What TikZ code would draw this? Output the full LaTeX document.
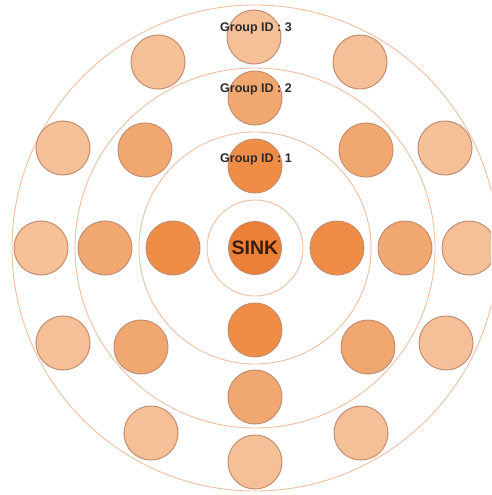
\documentclass[tikz,border=0pt]{standalone}
\usepackage{fontspec}
\setmainfont{Liberation Sans}
\definecolor{ringline}{HTML}{EFBFA2}
\definecolor{nodeline}{HTML}{C38E70}
\definecolor{sinkfill}{HTML}{EB8036}
\definecolor{gonefill}{HTML}{EF8D46}
\definecolor{gtwofill}{HTML}{F1A770}
\definecolor{gthreefill}{HTML}{F5BF98}
\definecolor{labeltext}{HTML}{2E2A28}
\definecolor{sinktext}{HTML}{3A1E0C}
\tikzset{
  ring/.style={draw=ringline, line width=0.9pt},
  sensor/.style={circle, draw=nodeline, line width=1pt, minimum size=54pt, inner sep=0pt},
  gone/.style={sensor, fill=gonefill},
  gtwo/.style={sensor, fill=gtwofill},
  gthree/.style={sensor, fill=gthreefill},
  sinknode/.style={sensor, fill=sinkfill, minimum size=53pt,
    font=\bfseries\fontsize{19.5}{20}\selectfont, text=sinktext},
  grouplabel/.style={font=\bfseries\fontsize{12.5}{13}\selectfont, text=labeltext, inner sep=0pt}
}
\begin{document}
\begin{tikzpicture}[x=1pt,y=-1pt]
\useasboundingbox (0,0) rectangle (491,495);
\clip (0,0) rectangle (491,495);
\fill[white] (0,0) rectangle (491,495);
\coordinate (c) at (255,248);
% concentric group boundaries
\draw[ring] (c) circle[radius=48];
\draw[ring] (c) circle[radius=116];
\draw[ring] (c) circle[radius=180];
\draw[ring] (c) circle[radius=243];
% sink
\node[sinknode] (sink) at (c) {SINK};
% group 1
\node[gone] (a1) at (255,166) {};
\node[gone] (a2) at (337,248) {};
\node[gone] (a3) at (255,330) {};
\node[gone] (a4) at (173,248) {};
% group 2
\node[gtwo] (b1) at (255,98) {};
\node[gtwo] (b2) at (366,150) {};
\node[gtwo] (b3) at (405,248) {};
\node[gtwo] (b4) at (368,347) {};
\node[gtwo] (b5) at (255,397) {};
\node[gtwo] (b6) at (141,347) {};
\node[gtwo] (b7) at (105,248) {};
\node[gtwo] (b8) at (145,150) {};
% group 3
\node[gthree] (t1) at (254,37) {};
\node[gthree] (t2) at (360,62) {};
\node[gthree] (t3) at (445,148) {};
\node[gthree] (t4) at (469,248) {};
\node[gthree] (t5) at (446,343) {};
\node[gthree] (t6) at (361,433) {};
\node[gthree] (t7) at (255,462) {};
\node[gthree] (t8) at (151,433) {};
\node[gthree] (t9) at (63,343) {};
\node[gthree] (t10) at (41,248) {};
\node[gthree] (t11) at (63,148) {};
\node[gthree] (t12) at (158,62) {};
% group labels
\node[grouplabel] (l3) at (256,28) {Group ID : 3};
\node[grouplabel] (l2) at (256,89) {Group ID : 2};
\node[grouplabel] (l1) at (256,159) {Group ID : 1};
\end{tikzpicture}
\end{document}
